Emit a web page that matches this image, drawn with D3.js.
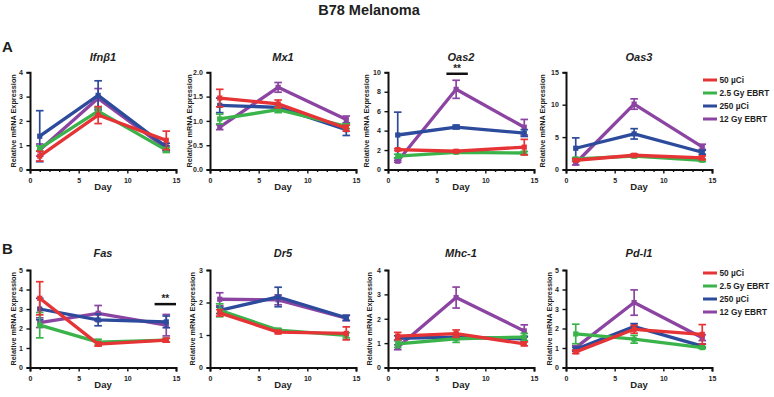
<!DOCTYPE html>
<html><head><meta charset="utf-8">
<script src="https://cdn.jsdelivr.net/npm/d3@7"></script>
<style>body{margin:0;background:#fff}svg{display:block;font-family:"Liberation Sans",Arial,sans-serif}</style>
</head><body><svg id="c" width="774" height="397"></svg>
<script>
// ---------- data ----------
const days = [1, 7, 14];
const seriesNames = ["50 µCi", "2.5 Gy EBRT", "250 µCi", "12 Gy EBRT"];
const genes = ["Ifnβ1", "Mx1", "Oas2", "Oas3", "Fas", "Dr5", "Mhc-1", "Pd-l1"];
const yMax = [4, 2, 10, 15, 5, 3, 4, 5];
const yStep = [1, 0.5, 2, 5, 1, 1, 1, 1];
const xTicks = [0, 5, 10, 15];

// rows: 50 µCi, 2.5 Gy EBRT, 250 µCi, 12 Gy EBRT ; columns: day 1, 7, 14
const ifnb1Mean = [[0.55, 2.24, 1.2], [0.87, 2.4, 0.8], [1.37, 3.05, 0.93], [0.8, 2.93, 0.87]];
const ifnb1Err  = [[0.2, 0.35, 0.38], [0.1, 0.15, 0.1], [1.05, 0.6, 0.15], [0.25, 0.4, 0.1]];
const mx1Mean = [[1.47, 1.35, 0.85], [1.04, 1.23, 0.89], [1.32, 1.28, 0.82], [0.87, 1.69, 1.03]];
const mx1Err  = [[0.18, 0.08, 0.06], [0.1, 0.06, 0.05], [0.15, 0.05, 0.12], [0.05, 0.1, 0.07]];
const oas2Mean = [[2.05, 1.88, 2.3], [1.37, 1.77, 1.7], [3.55, 4.37, 3.75], [0.85, 8.25, 4.35]];
const oas2Err  = [[0.1, 0.1, 0.8], [0.2, 0.1, 0.15], [2.35, 0.2, 0.35], [0.1, 0.93, 0.8]];
const oas3Mean = [[1.43, 2.2, 1.8], [1.64, 2.05, 1.43], [3.28, 5.5, 2.66], [1.0, 10.1, 3.5]];
const oas3Err  = [[0.2, 0.2, 0.3], [0.2, 0.2, 0.2], [1.6, 0.8, 0.3], [0.3, 0.8, 0.4]];
const fasMean = [[3.55, 1.2, 1.4], [2.17, 1.3, 1.4], [3.0, 2.44, 2.34], [2.3, 2.78, 2.17]];
const fasErr  = [[0.85, 0.1, 0.1], [0.65, 0.15, 0.1], [0.55, 0.3, 0.3], [0.25, 0.4, 0.55]];
const dr5Mean = [[1.68, 1.09, 1.05], [1.76, 1.15, 0.99], [1.76, 2.17, 1.53], [2.1, 2.08, 1.52]];
const dr5Err  = [[0.1, 0.05, 0.2], [0.2, 0.05, 0.08], [0.1, 0.3, 0.08], [0.2, 0.15, 0.08]];
const mhc1Mean = [[1.29, 1.39, 0.97], [0.97, 1.18, 1.25], [1.2, 1.25, 1.18], [0.83, 2.87, 1.5]];
const mhc1Err  = [[0.15, 0.15, 0.08], [0.15, 0.15, 0.15], [0.1, 0.1, 0.1], [0.1, 0.43, 0.25]];
const pdl1Mean = [[0.8, 1.96, 1.7], [1.72, 1.45, 1.02], [0.94, 2.1, 1.1], [1.02, 3.33, 1.53]];
const pdl1Err  = [[0.08, 0.2, 0.5], [0.5, 0.2, 0.05], [0.1, 0.15, 0.1], [0.1, 0.65, 0.15]];

const sigMarks = [
  {gene: "Oas2", x0: 6, x1: 8.2, y: 9.85, label: "**"},
  {gene: "Fas", x0: 12.8, x1: 15, y: 3.25, label: "**"}
];

// ---------- layout / style ----------
const means = [ifnb1Mean, mx1Mean, oas2Mean, oas3Mean, fasMean, dr5Mean, mhc1Mean, pdl1Mean];
const errs = [ifnb1Err, mx1Err, oas2Err, oas3Err, fasErr, dr5Err, mhc1Err, pdl1Err];
const colors = ["#e63336", "#3bb34b", "#2d4b9c", "#8c44a2"];
const panelX = [30, 210, 388, 566];
const panelW = 146;
const rowY = [{top: 72.3, bottom: 169.5}, {top: 270, bottom: 367.5}];
const ylabOff = [17, 21, 22, 24, 17, 18, 19, 17];
const txt = "#1e1e1e";

const svg = d3.select("#c");
svg.append("text").attr("x", 369).attr("y", 15).attr("text-anchor", "middle")
  .attr("font-size", 14.5).attr("font-weight", "bold").attr("fill", txt).text("B78 Melanoma");
svg.append("text").attr("x", 2).attr("y", 52).attr("font-size", 15).attr("font-weight", "bold").attr("fill", txt).text("A");
svg.append("text").attr("x", 2).attr("y", 254).attr("font-size", 15).attr("font-weight", "bold").attr("fill", txt).text("B");

genes.forEach((g, gi) => {
  const row = Math.floor(gi / 4), col = gi % 4;
  const x0 = panelX[col], ry = rowY[row];
  const x = d3.scaleLinear().domain([0, 15]).range([x0, x0 + panelW]);
  const y = d3.scaleLinear().domain([0, yMax[gi]]).range([ry.bottom, ry.top]);
  const p = svg.append("g");

  p.append("text").attr("x", x0 + panelW / 2).attr("y", row === 0 ? 61 : 257).attr("text-anchor", "middle")
    .attr("font-size", 11).attr("font-weight", "bold").attr("font-style", "italic").attr("fill", txt).text(g);

  const xa = p.append("g").attr("transform", `translate(0,${ry.bottom})`)
    .call(d3.axisBottom(x).tickValues(xTicks).tickSize(4).tickFormat(d3.format("d")));
  p.append("g").attr("transform", `translate(0,${ry.bottom})`)
    .call(d3.axisBottom(x).tickValues(d3.range(0, 16).filter(v => v % 5)).tickSize(2.5).tickFormat(""))
    .call(s => s.select(".domain").remove())
    .selectAll("line").attr("stroke", "#111").attr("stroke-width", 1.4);
  const ya = p.append("g").attr("transform", `translate(${x0},0)`)
    .call(d3.axisLeft(y).tickValues(d3.range(0, yMax[gi] + 1e-9, yStep[gi])).tickSize(3.5)
      .tickFormat(yStep[gi] < 1 ? d3.format(".1f") : d3.format("d")));
  [xa, ya].forEach(a => {
    a.select(".domain").attr("stroke", "#111").attr("stroke-width", 2);
    a.selectAll(".tick line").attr("stroke", "#111").attr("stroke-width", 1.4);
    a.selectAll(".tick text").attr("font-size", 7).attr("font-weight", "bold").attr("fill", txt)
      .attr("font-family", "'Liberation Sans',Arial,sans-serif");
  });
  xa.selectAll(".tick text").attr("dy", "0.9em");
  ya.selectAll(".tick text").attr("dx", "-0.1em");

  p.append("text").attr("x", x0 + panelW / 2).attr("y", ry.bottom + 20).attr("text-anchor", "middle")
    .attr("font-size", 9.5).attr("font-weight", "bold").attr("fill", txt).text("Day");
  p.append("text").attr("transform", `translate(${x0 - ylabOff[gi]},${(ry.top + ry.bottom) / 2}) rotate(-90)`)
    .attr("text-anchor", "middle").attr("dy", "0.35em").attr("font-size", 7.3).attr("font-weight", "bold")
    .attr("fill", txt).text("Relative mRNA Expression");

  [3, 2, 1, 0].forEach(si => {
    const pts = days.map((d, di) => ({d, m: means[gi][si][di], e: errs[gi][si][di]}));
    const sg = p.append("g");
    pts.forEach(pt => {
      sg.append("line").attr("x1", x(pt.d)).attr("x2", x(pt.d)).attr("y1", y(pt.m - pt.e)).attr("y2", y(pt.m + pt.e))
        .attr("stroke", colors[si]).attr("stroke-width", 1.7);
      [pt.m - pt.e, pt.m + pt.e].forEach(v => sg.append("line").attr("x1", x(pt.d) - 3.8).attr("x2", x(pt.d) + 3.8)
        .attr("y1", y(v)).attr("y2", y(v)).attr("stroke", colors[si]).attr("stroke-width", 1.7));
    });
    sg.append("path").datum(pts).attr("fill", "none").attr("stroke", colors[si]).attr("stroke-width", 3.3)
      .attr("stroke-linejoin", "round").attr("d", d3.line().x(d => x(d.d)).y(d => y(d.m)));
    sg.selectAll("rect").data(pts).join("rect").attr("x", d => x(d.d) - 2.6).attr("y", d => y(d.m) - 2.6)
      .attr("width", 5.2).attr("height", 5.2).attr("fill", colors[si]);
  });

  sigMarks.filter(s => s.gene === g).forEach(s => {
    p.append("line").attr("x1", x(s.x0)).attr("x2", x(s.x1)).attr("y1", y(s.y)).attr("y2", y(s.y))
      .attr("stroke", "#111").attr("stroke-width", 2.5);
    p.append("text").attr("x", (x(s.x0) + x(s.x1)) / 2).attr("y", y(s.y) - 2).attr("text-anchor", "middle")
      .attr("font-size", 10).attr("font-weight", "bold").attr("fill", txt).text(s.label);
  });

  if (col === 3) {
    const lg = p.append("g");
    const ly0 = row === 0 ? 80 : 273;
    seriesNames.forEach((n, i) => {
      lg.append("line").attr("x1", 703).attr("x2", 717).attr("y1", ly0 + i * 13).attr("y2", ly0 + i * 13)
        .attr("stroke", colors[i]).attr("stroke-width", 3);
      lg.append("text").attr("x", 719.5).attr("y", ly0 + i * 13).attr("dy", "0.35em").attr("font-size", 8.3)
        .attr("font-weight", "bold").attr("fill", txt).text(n);
    });
  }
});
</script></body></html>
